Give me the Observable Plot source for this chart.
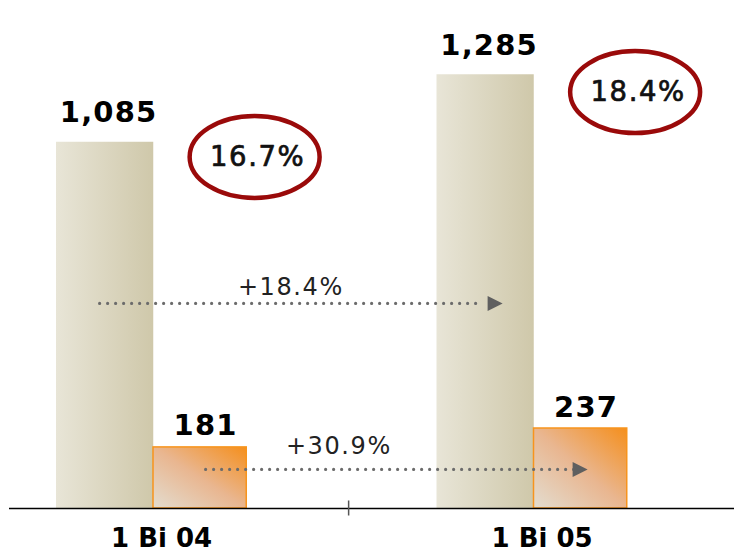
<!DOCTYPE html>
<html><head><meta charset="utf-8">
<script src="https://cdn.jsdelivr.net/npm/d3@7"></script>
<script src="https://cdn.jsdelivr.net/npm/@observablehq/plot@0.6"></script>
<style>
body{margin:0;background:#fff}
#chart svg g[font-size="29"]{letter-spacing:1.2px}
#chart svg g[font-size="27.5"]{letter-spacing:1.6px}
#chart svg g[font-size="24"]{letter-spacing:1.6px}
</style>
</head><body>
<svg width="0" height="0" style="position:absolute">
<defs>
<linearGradient id="gBeige" x1="0" y1="0" x2="1" y2="0">
 <stop offset="0" stop-color="#e8e5d7"/><stop offset="1" stop-color="#cfc8aa"/>
</linearGradient>
<linearGradient id="gOrange" x1="0" y1="1" x2="1" y2="0">
 <stop offset="0" stop-color="#e3ddd0"/><stop offset="0.5" stop-color="#e9b690"/><stop offset="1" stop-color="#f58f1c"/>
</linearGradient>
</defs></svg>
<div id="chart"></div>
<script>
// ---- data ----
const periods = ["1 Bi 04", "1 Bi 05"];
const totals = [1085, 1285];
const parts = [181, 237];
const arrowLevels = [0.56, 0.64]; // arrow height as fraction of the starting bar

// ---- derived tables ----
const rows = periods.map((p, i) => ({period: p, total: totals[i], part: parts[i]}));
const fmt = d3.format(",");
const pct = v => (v * 100).toFixed(1) + "%";
const growth = [
  {from: periods[0], to: periods[1], y: totals[0] * arrowLevels[0], label: "+" + pct(totals[1] / totals[0] - 1)},
  {from: periods[0], to: periods[1], y: parts[0] * arrowLevels[1], label: "+" + pct(parts[1] / parts[0] - 1)}
];
const arrowStyle = [
  {lineDx: -52, headDx: -37, textDx: -51, textDy: -8},
  {lineDx: 54, headDx: 48, textDx: -3, textDy: -15}
];

// custom symbols
const ellipseSym = {draw(ctx, size) {
  const r = Math.sqrt(size / Math.PI), rx = r * 1.585, ry = r, k = 0.5523;
  ctx.moveTo(rx, 0);
  ctx.bezierCurveTo(rx, ry * k, rx * k, ry, 0, ry);
  ctx.bezierCurveTo(-rx * k, ry, -rx, ry * k, -rx, 0);
  ctx.bezierCurveTo(-rx, -ry * k, -rx * k, -ry, 0, -ry);
  ctx.bezierCurveTo(rx * k, -ry, rx, -ry * k, rx, 0);
  ctx.closePath();
}};
const headSym = {draw(ctx, size) {
  const r = Math.sqrt(size / Math.PI);
  ctx.moveTo(r, 0); ctx.lineTo(-r, -r); ctx.lineTo(-r, r); ctx.closePath();
}};

const arrowMarks = growth.flatMap((g, i) => {
  const s = arrowStyle[i];
  return [
    Plot.link([g], {x1: "from", x2: "to", y1: "y", y2: "y", dx: s.lineDx, stroke: "#6b6b6b",
      strokeWidth: 3.2, strokeDasharray: "0 8", strokeLinecap: "round"}),
    Plot.dot([g], {x: "to", y: "y", dx: s.headDx, symbol: headSym, r: 7.5, fill: "#5f5f5f", stroke: "none"}),
    Plot.text([g], {y: "y", text: "label", frameAnchor: "middle", dx: s.textDx, dy: s.textDy,
      lineAnchor: "bottom", fontSize: 24, fill: "#222"})
  ];
});

const chart = Plot.plot({
  width: 734,
  height: 552,
  marginTop: 0,
  marginBottom: 44,
  marginLeft: 56,
  marginRight: 107.25,
  style: {background: "#fff", fontFamily: "'DejaVu Sans', Verdana, sans-serif", overflow: "visible"},
  x: {domain: periods, paddingInner: 0.5, paddingOuter: 0, round: false, axis: null},
  y: {domain: [0, 1505], axis: null},
  marks: [
    Plot.barY(rows, {x: "period", y: "total", fill: "url(#gBeige)", insetRight: 93}),
    Plot.barY(rows, {x: "period", y: "part", fill: "url(#gOrange)", stroke: "#f7941d", strokeWidth: 1.5, insetLeft: 97}),
    Plot.ruleY([0], {stroke: "#000", strokeWidth: 1.5, insetLeft: -47, insetRight: -112}),
    Plot.ruleX([periods[0]], {x: d => d, y1: 0, y2: 0, dx: 197, insetTop: -7.5, insetBottom: -7.5, stroke: "#555", strokeWidth: 1.5}),
    ...arrowMarks,
    Plot.text(rows, {x: "period", y: "total", text: d => fmt(d.total), dx: -43, dy: -20,
      lineAnchor: "bottom", fontSize: 29, fontWeight: "bold", fill: "#000"}),
    Plot.text(rows, {x: "period", y: "part", text: d => fmt(d.part), dx: 54, dy: -12,
      lineAnchor: "bottom", fontSize: 29, fontWeight: "bold", fill: "#000"}),
    Plot.dot(rows, {x: "period", y: d => d.total * 0.96, dx: 103, symbol: ellipseSym, r: 41,
      fill: "none", stroke: "#9a0a0a", strokeWidth: 4.5}),
    Plot.text(rows, {x: "period", y: d => d.total * 0.96, text: d => pct(d.part / d.total), dx: 106,
      fontSize: 27.5, fill: "#111", stroke: "#111", strokeWidth: 0.7}),
    Plot.text(periods, {x: d => d, frameAnchor: "bottom", lineAnchor: "top", dy: 20, dx: 10,
      fontSize: 26, fontWeight: "bold", fill: "#000"})
  ]
});
document.getElementById("chart").appendChild(chart);
</script>
</body></html>
